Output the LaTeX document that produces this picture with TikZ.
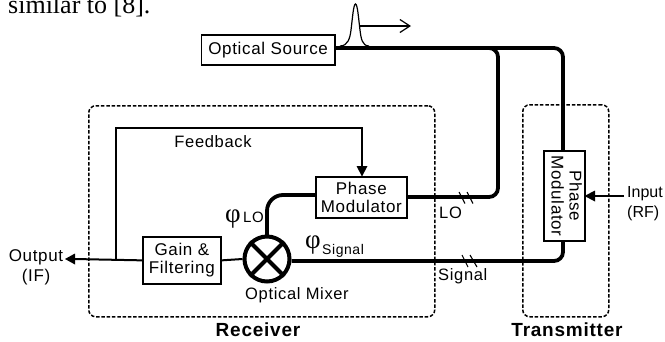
\documentclass[tikz,border=0pt]{standalone}
\usepackage{fontspec}
\setmainfont{Liberation Sans}
\newfontfamily\lab[LetterSpace=4]{Liberation Sans}
\newfontfamily\serif{Liberation Serif}
\usetikzlibrary{arrows.meta}
\tikzset{
 x=1pt,y=-1pt,
 txt/.style={font=\lab\fontsize{16.5}{19}\selectfont,inner sep=0pt,align=center},
 sm/.style={font=\lab\fontsize{17}{20.5}\selectfont,inner sep=0pt,align=center},
 hd/.style={font=\lab\bfseries\fontsize{19}{22}\selectfont,inner sep=0pt},
 blockbox/.style={draw,line width=1.7pt,fill=white,font=\lab\fontsize{17}{19}\selectfont,align=center,inner sep=0pt},
 fiber/.style={line width=3.8pt,rounded corners=9pt},
 wire/.style={line width=2pt},
 dashbox/.style={draw,line width=1.5pt,dash pattern=on 3.5pt off 1.8pt,rounded corners=7pt},
 phi/.style={font=\serif\fontsize{27}{27}\selectfont,inner sep=0pt},
 tick/.style={line width=1.1pt},
}
\begin{document}
\begin{tikzpicture}
\useasboundingbox (0,0) rectangle (665,341);
\node[font=\serif\fontsize{26}{26}\selectfont,inner sep=0pt,anchor=base west] (cap) at (8,13) {similar to [8].};
\node[dashbox,minimum width=346pt,minimum height=211pt,anchor=north west] (rx) at (88,105) {};
\node[dashbox,minimum width=86pt,minimum height=212pt,anchor=north west] (tx) at (522,104) {};
\node[blockbox,minimum width=133.5pt,minimum height=30pt,anchor=north west] (src) at (200.5,34) {Optical Source};
\node[blockbox,minimum width=91pt,minimum height=41pt,anchor=north west] (pmr) at (315,176) {Phase\\[-1pt]Modulator};
\node[blockbox,minimum width=41pt,minimum height=90pt,anchor=north west] (pmt) at (543,150) {\rotatebox{-90}{\begin{tabular}{@{}c@{}}Phase\\[-1pt]Modulator\end{tabular}}};
\node[blockbox,minimum width=78pt,minimum height=47pt,anchor=north west] (gain) at (142,236) {Gain \&\\[-1pt]Filtering};
\node[draw,circle,line width=4pt,minimum size=45pt,inner sep=0pt] (mix) at (267,259) {};
\draw[line width=4pt] (mix.45) -- (mix.225) (mix.135) -- (mix.315);
\draw[fiber] (src.east |- 0,48) -| (498,197) -- (pmr.east |- 0,197);
\draw[fiber] (src.east |- 0,48) -| (563,150);
\draw[fiber] (mix.east |- 0,261) -- (563,261) -- (563,240);
\draw[fiber,rounded corners=16pt] (267,236) |- (pmr.west |- 0,195);
\coordinate (fbtop) at (116,128);
\coordinate (fbj) at (116,259);
\coordinate (outtip) at (65,259);
\coordinate (intail) at (624,196);
\draw[wire] (fbj) -- (fbtop) -| (362,168) coordinate (fbend);
\fill (362,176.5) -- (356.5,166) -- (367.5,166) -- cycle;
\draw[wire] (gain.east) -- (mix.west);
\draw[wire] (gain.west) -- (74,259);
\fill (outtip) -- (75,253.5) -- (75,264.5) -- cycle;
\draw[wire] (intail) -- (594,196);
\fill (584.5,196) -- (595,190.5) -- (595,201.5) -- cycle;
\draw[tick] (459,192) -- (465,203.5) (467,192) -- (473,203.5);
\draw[tick] (462,255) -- (468,267) (470,255) -- (477,267);
\coordinate (pb1) at (340,46);
\coordinate (pb2) at (369,46);
\draw[line width=1.2pt] (pb1) .. controls (348,46) and (350,38) .. (351,30) .. controls (352.5,18) and (353.5,4) .. (355.5,4) .. controls (357.5,4) and (358.5,18) .. (360,30) .. controls (361,38) and (362,46) .. (pb2);
\draw[line width=1.2pt,-{Straight Barb[length=10pt,width=13pt]}] (360,26) -- (411,26);
\node[txt] (fb) at (213,142) {Feedback};
\node[txt] (om) at (297,295) {Optical Mixer};
\node[txt,anchor=west] (lol) at (439,213) {LO};
\node[txt,anchor=west] (sl) at (438,276) {Signal};
\node[hd] (rl) at (258,330) {Receiver};
\node[hd] (tl) at (567,330) {Transmitter};
\node[sm,anchor=north] (out) at (36,249) {Output\\(IF)};
\node[anchor=north west,align=left,inner sep=0pt,font=\fontsize{16}{20.5}\selectfont] (inp) at (627,186) {Input\\(RF)};
\node[phi,anchor=base west] (p1) at (225,222) {φ};
\node[txt,anchor=base west,font=\lab\fontsize{15}{15}\selectfont] (p1s) at (243,222) {LO};
\node[phi,anchor=base west] (p2) at (305,248) {φ};
\node[txt,anchor=base west,font=\lab\fontsize{14}{14}\selectfont] (p2s) at (322,254) {Signal};
\end{tikzpicture}
\end{document}
